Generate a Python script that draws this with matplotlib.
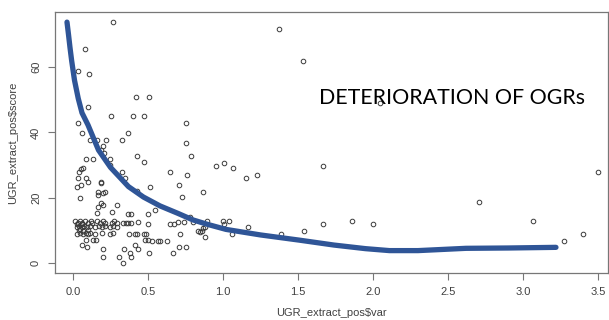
import numpy as np
import matplotlib
matplotlib.use("Agg")
import matplotlib.pyplot as plt

# ── Scatter data ──
var_hi = [0.265, 0.08, 0.035, 0.107, 0.42, 0.51, 0.10, 0.253, 0.40, 0.475,
          0.035, 0.058, 0.37, 0.113, 0.158, 0.218, 0.325, 0.2, 0.19, 0.21,
          0.425, 0.475, 0.085, 0.135, 0.25, 0.247, 0.07, 0.053, 0.04, 0.035,
          0.085, 0.10, 0.185, 0.19, 0.33, 0.347, 0.025, 0.055, 0.513, 0.425,
          0.047, 0.17, 0.2, 0.213, 0.17, 0.187, 0.17, 0.158, 0.258, 0.295,
          0.2, 0.502, 0.547, 0.369, 0.39, 0.435, 0.498]
score_hi = [73.7, 65.7, 58.8, 57.9, 50.9, 50.9, 47.9, 44.9, 44.9, 44.9,
            42.8, 39.7, 39.7, 37.8, 37.8, 37.8, 37.8, 35.8, 34.6, 33.8,
            32.9, 31.0, 31.8, 31.8, 31.8, 30.0, 29.0, 28.7, 28.0, 25.9,
            25.9, 24.9, 24.9, 24.6, 27.8, 25.9, 23.2, 23.9, 23.2, 22.0,
            19.9, 21.8, 21.3, 21.8, 20.8, 18.3, 17.2, 15.2, 15.7, 17.9,
            17.8, 15.0, 16.2, 14.9, 14.9, 12.7, 11.9]

var_mid = [0.647, 0.762, 0.709, 0.725, 0.865, 0.753, 0.751, 0.785, 0.953, 1.009,
           1.069, 1.151, 1.224, 0.647, 0.673, 0.702, 0.742, 0.78, 0.8, 0.891,
           0.88, 0.835, 0.847, 0.858, 0.869, 0.88, 1.0, 1.007, 1.04, 1.058,
           1.169, 1.387, 1.54, 0.58, 0.629, 0.713, 0.709, 0.753, 0.669, 0.529,
           0.565]
score_mid = [27.8, 27.0, 23.9, 20.1, 21.8, 42.8, 36.8, 32.9, 29.8, 30.7,
             29.0, 25.9, 27.0, 11.9, 11.9, 12.7, 12.7, 14.0, 12.7, 12.9,
             10.9, 9.8, 9.6, 9.8, 10.6, 7.9, 12.9, 11.9, 12.9, 8.9,
             10.9, 8.9, 9.8, 6.8, 6.8, 8.9, 5.0, 5.0, 3.0, 6.8,
             6.8]

var_far = [1.373, 1.531, 2.047, 1.669, 1.669, 1.862, 2.002, 2.709, 3.069,
           3.276, 3.402, 3.498]
score_far = [71.7, 61.9, 48.9, 29.8, 11.9, 12.9, 11.9, 18.8, 12.9,
             6.8, 8.9, 27.8]

# dense cluster near the origin
var_low = [0.013, 0.031, 0.047, 0.062, 0.08, 0.102, 0.12, 0.129, 0.158, 0.18,
           0.198, 0.213, 0.258, 0.276, 0.291, 0.335, 0.351, 0.369, 0.387,
           0.024, 0.04, 0.058, 0.075, 0.091, 0.113, 0.147, 0.173, 0.191, 0.213,
           0.247, 0.269, 0.291,
           0.024, 0.047, 0.069, 0.085, 0.102, 0.113, 0.147, 0.191, 0.247, 0.269,
           0.373, 0.413, 0.425, 0.475, 0.485,
           0.085, 0.135, 0.151, 0.48, 0.498,
           0.062, 0.095, 0.413,
           0.2, 0.342, 0.38, 0.431, 0.507,
           0.2, 0.307, 0.387, 0.335,
           0.03, 0.05, 0.06, 0.07, 0.04, 0.10]
score_low = [13, 12.4, 13, 12.4, 13, 12.4, 13, 12.4, 13, 12.4,
             13, 12.4, 12.4, 13, 12.4, 12.4, 12.4, 12.4, 12.4,
             11, 11.2, 11, 11.2, 11, 11.2, 11, 11.2, 11, 11.2,
             11, 11.2, 11,
             9, 9.2, 9, 9.2, 9, 9.2, 9, 9.2, 9, 9.2,
             9, 9, 9, 9, 9,
             7, 7, 7, 7, 7,
             5.5, 5.0, 5.5,
             4.3, 4.3, 3.2, 4.3, 3.2,
             1.9, 1.9, 1.9, 0.0,
             12.0, 10.5, 11.8, 9.9, 10.0, 10.2]

# ── Fitted trend curve ──
curve_x = [-0.04, -0.03, -0.02, -0.009, 0.01, 0.035, 0.06, 0.1, 0.17, 0.25,
           0.37, 0.47, 0.58, 0.7, 0.8, 0.9, 1.02, 1.25, 1.51, 1.74,
           1.95, 2.11, 2.3, 2.62, 2.9, 3.22]
curve_y = [73.8, 70, 66, 62, 56, 50.4, 46, 42.3, 34.6, 29.3,
           23.4, 20.2, 17.5, 15.2, 13.2, 11.8, 10.3, 8.6, 7.0, 5.5,
           4.4, 3.8, 3.8, 4.5, 4.6, 4.8]

x_ticks = [0.0, 0.5, 1.0, 1.5, 2.0, 2.5, 3.0, 3.5]
y_ticks = [0, 20, 40, 60]

plt.rcParams['font.family'] = ['Liberation Sans', 'DejaVu Sans']

fig = plt.figure(figsize=(6.09, 3.2), dpi=100)
ax = fig.add_axes([55 / 609, 47 / 320, 553 / 609, 261 / 320])

var_all = var_hi + var_mid + var_far + var_low
score_all = score_hi + score_mid + score_far + score_low
ax.plot(var_all, score_all, linestyle='none', marker='o', markersize=3.3,
        markerfacecolor='none', markeredgecolor='#3a3a3a', markeredgewidth=0.7)

ax.plot(curve_x, curve_y, color='#2f5597', linewidth=3.8,
        solid_capstyle='round', solid_joinstyle='round', zorder=3)

# overlay title inside the plot area
ax.text(1.64, 50.6, "DETERIORATION OF OGRs", fontsize=15.4,
        family=['Lato', 'DejaVu Sans'], color='black', va='center', ha='left')

ax.set_xlim(-0.12, 3.567)
ax.set_ylim(-3.06, 76.9)
ax.set_xticks(x_ticks)
ax.set_xticklabels([f"{t:.1f}" for t in x_ticks])
ax.set_yticks(y_ticks)
ax.set_yticklabels([str(t) for t in y_ticks], rotation=90, va='center')

for s in ax.spines.values():
    s.set_color('#777777')
    s.set_linewidth(0.9)
ax.tick_params(direction='out', length=5, width=0.8, color='#777777',
               labelsize=8, labelcolor='#404040', pad=5)

ax.set_xlabel("UGR_extract_pos$var", fontsize=8, color='#404040', labelpad=8)
ax.set_ylabel("UGR_extract_pos$score", fontsize=8, color='#404040', labelpad=9)

fig.savefig("out.png", dpi=100)
